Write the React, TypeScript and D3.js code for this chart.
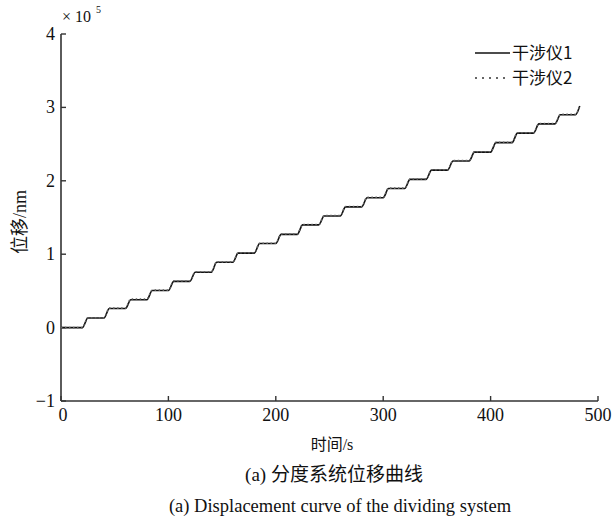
import React from "react";
import * as d3 from "d3";

const time1 = [0, 20, 25, 40, 45, 60, 65, 80, 85, 100, 105, 120, 125, 140, 145, 160, 165, 180, 185, 200, 205, 220, 225, 240, 245, 260, 265, 280, 285, 300, 305, 320, 325, 340, 345, 360, 365, 380, 385, 400, 405, 420, 425, 440, 445, 460, 465, 479, 483];
const disp1 = [0, 0, 13000, 13000, 26000, 26000, 38000, 38000, 50500, 50500, 63000, 63000, 75500, 75500, 89000, 89000, 101500, 101500, 114500, 114500, 127000, 127000, 140000, 140000, 152000, 152000, 164500, 164500, 177000, 177000, 189500, 189500, 202000, 202000, 214500, 214500, 227000, 227000, 239000, 239000, 252000, 252000, 265000, 265000, 277500, 277500, 290000, 290000, 302000];
const time2 = [0, 20, 25, 40, 45, 60, 65, 80, 85, 100, 105, 120, 125, 140, 145, 160, 165, 180, 185, 200, 205, 220, 225, 240, 245, 260, 265, 280, 285, 300, 305, 320, 325, 340, 345, 360, 365, 380, 385, 400, 405, 420, 425, 440, 445, 460, 465, 479, 483];
const disp2 = [0, 0, 13500, 13500, 26500, 26500, 39000, 39000, 51000, 51000, 63500, 63500, 76000, 76000, 89500, 89500, 102000, 102000, 115000, 115000, 127500, 127500, 140500, 140500, 152500, 152500, 165000, 165000, 177500, 177500, 190000, 190000, 202500, 202500, 215000, 215000, 227500, 227500, 239500, 239500, 252500, 252500, 265500, 265500, 278000, 278000, 290500, 290500, 302500];
const xTicks = [0, 100, 200, 300, 400, 500];
const yTicks = [-100000, 0, 100000, 200000, 300000, 400000];
const seriesNames = ["干涉仪1", "干涉仪2"];

const serif = "'Liberation Serif', 'Times New Roman', serif";
const cjk = "'Noto Sans CJK SC', sans-serif";

export default function App() {
  const W = 614, H = 523;
  const x = d3.scaleLinear().domain([0, 500]).range([61, 598]);
  const y = d3.scaleLinear().domain([-100000, 400000]).range([401, 34]);
  const mk = (ts: number[], vs: number[]) =>
    d3
      .line<number>()
      .x((t) => x(t))
      .y((_, i) => y(vs[i]))
      .curve(d3.curveMonotoneX)(ts) || "";
  const axisColor = "#333";
  return (
    <svg width={W} height={H} style={{ display: "block", position: "absolute", left: 0, top: 0, background: "#fff" }}>
      <rect x={0} y={0} width={W} height={H} fill="#fff" />
      {/* axes */}
      <line x1={x(0)} x2={x(0)} y1={y(400000)} y2={y(-100000)} stroke={axisColor} strokeWidth={1.6} />
      <line x1={x(0)} x2={x(500)} y1={y(-100000)} y2={y(-100000)} stroke={axisColor} strokeWidth={1.6} />
      {yTicks.map((v) => (
        <g key={"y" + v}>
          <line x1={x(0)} x2={x(0) + 5} y1={y(v)} y2={y(v)} stroke={axisColor} strokeWidth={1.4} />
          <text x={x(0) - 6} y={y(v) + 6} textAnchor="end" fontFamily={serif} fontSize={18} fill="#111">
            {v < 0 ? "\u2212" + Math.abs(v / 100000) : String(v / 100000)}
          </text>
        </g>
      ))}
      {xTicks.map((v) => (
        <g key={"x" + v}>
          <line x1={x(v)} x2={x(v)} y1={y(-100000)} y2={y(-100000) - 5} stroke={axisColor} strokeWidth={1.4} />
          <text x={x(v) + (v === 0 ? 2 : 0)} y={y(-100000) + 20} textAnchor="middle" fontFamily={serif} fontSize={18} fill="#111">
            {v}
          </text>
        </g>
      ))}
      {/* exponent */}
      <text x={62} y={22} fontFamily={serif} fontSize={16} fill="#111">
        × 10
      </text>
      <text x={96} y={13} fontFamily={serif} fontSize={10} fill="#111">
        5
      </text>
      {/* data */}
      <path d={mk(time1, disp1)} fill="none" stroke="#111" strokeWidth={1.6} />
      <path d={mk(time2, disp2)} fill="none" stroke="#666" strokeWidth={1.6} strokeDasharray="1.5 2.5" />
      {/* legend */}
      <line x1={475} x2={510} y1={53} y2={53} stroke="#111" strokeWidth={1.6} />
      <text x={512} y={59} fontFamily={cjk} fontSize={17} fill="#111">{seriesNames[0]}</text>
      <line x1={475} x2={510} y1={78} y2={78} stroke="#666" strokeWidth={2} strokeDasharray="2 5" />
      <text x={512} y={84} fontFamily={cjk} fontSize={17} fill="#111">{seriesNames[1]}</text>
      {/* axis labels */}
      <text x={332} y={450} textAnchor="middle" fontFamily={cjk} fontSize={16} fill="#111">
        时间<tspan fontFamily={serif}>/s</tspan>
      </text>
      <text transform="translate(26,222) rotate(-90)" textAnchor="middle" fontFamily={cjk} fontSize={18} fill="#111">
        位移<tspan fontFamily={serif}>/nm</tspan>
      </text>
      <text x={334} y={481} textAnchor="middle" fontFamily={cjk} fontSize={19} fill="#111">
        <tspan fontFamily={serif}>(a) </tspan>分度系统位移曲线
      </text>
      <text x={340} y={512} textAnchor="middle" fontFamily={serif} fontSize={18.5} fill="#111">
        (a) Displacement curve of the dividing system
      </text>
    </svg>
  );
}
